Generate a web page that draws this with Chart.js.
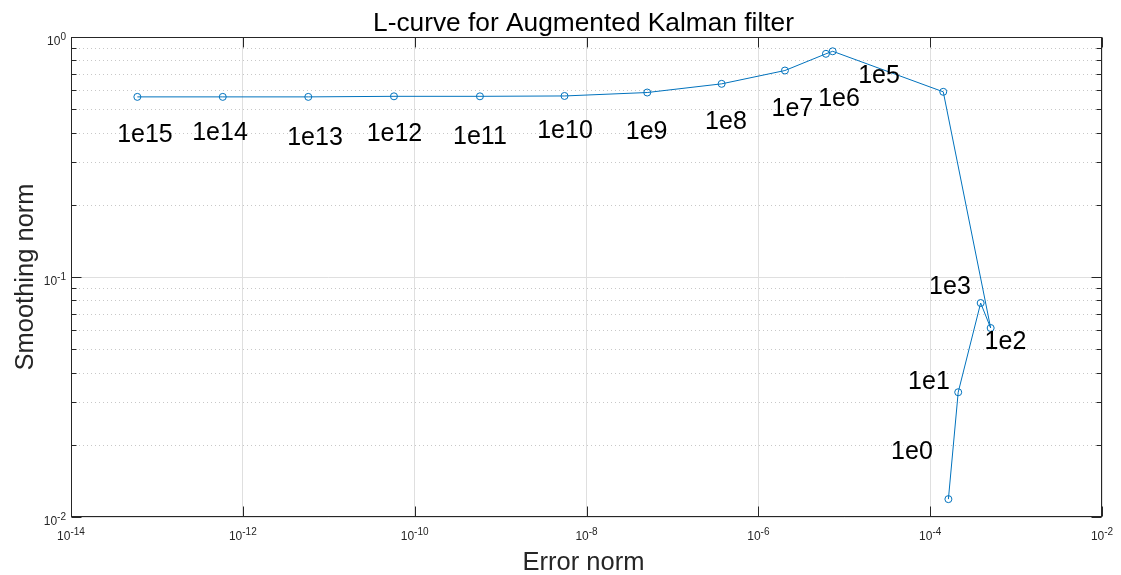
<!DOCTYPE html>
<html>
<head>
<meta charset="utf-8">
<title>L-curve</title>
<script src="https://cdn.jsdelivr.net/npm/chart.js@4"></script>
<style>
  html, body { margin: 0; padding: 0; background: #fff; }
  canvas { display: block; }
</style>
</head>
<body>
<canvas id="lcurve" width="1121" height="575"></canvas>
<script>
// L-curve points, in the order the line runs through them
const errorNorm = [5.92e-14, 5.84e-13, 5.78e-12, 5.74e-11, 5.75e-10, 5.55e-9, 5.09e-8, 3.74e-7,
                   2.04e-6, 6.12e-6, 7.33e-6, 1.42e-4, 5.06e-4, 3.87e-4, 2.12e-4, 1.63e-4];
const smoothNorm = [0.563, 0.563, 0.563, 0.566, 0.566, 0.568, 0.587, 0.638,
                    0.725, 0.851, 0.872, 0.591, 0.0613, 0.0779, 0.0331, 0.01187];

// regularisation parameter text labels (placed in data coordinates)
const labelText = ['1e15', '1e14', '1e13', '1e12', '1e11', '1e10', '1e9', '1e8',
                   '1e7', '1e6', '1e5', '1e3', '1e2', '1e1', '1e0'];
const labelErr = [7.26e-14, 5.42e-13, 6.92e-12, 5.82e-11, 5.75e-10, 5.62e-9, 5.01e-8, 4.20e-7,
                  2.49e-6, 8.69e-6, 2.54e-5, 1.70e-4, 7.52e-4, 9.68e-5, 6.14e-5];
const labelSmooth = [0.400, 0.404, 0.388, 0.402, 0.392, 0.415, 0.408, 0.451,
                     0.513, 0.562, 0.704, 0.0924, 0.0545, 0.0371, 0.01895];

// axis decades
const xTickExp = [-14, -12, -10, -8, -6, -4, -2];
const yTickExp = [-2, -1, 0];

const FONT = '"Liberation Sans", Arial, Helvetica, sans-serif';
const AXIS_COLOR = '#262626';
const LINE_COLOR = '#0072BD';

const points = errorNorm.map((x, i) => ({ x, y: smoothNorm[i] }));

function yTickValues() {
  const vals = [];
  for (let e = yTickExp[0]; e < yTickExp[yTickExp.length - 1]; e++) {
    for (let m = 1; m <= 9; m++) vals.push(m * Math.pow(10, e));
  }
  vals.push(Math.pow(10, yTickExp[yTickExp.length - 1]));
  return vals;
}

function isDecade(v) {
  const l = Math.log10(v);
  return Math.abs(l - Math.round(l)) < 1e-6;
}

// "10" with a raised exponent
function powWidth(ctx, exp) {
  ctx.font = `12px ${FONT}`;
  const a = ctx.measureText('10').width;
  ctx.font = `10px ${FONT}`;
  const b = ctx.measureText(String(exp)).width;
  return [a, b];
}

function drawPow(ctx, exp, left, baseline) {
  const [a] = powWidth(ctx, exp);
  ctx.textAlign = 'left';
  ctx.textBaseline = 'alphabetic';
  ctx.font = `12px ${FONT}`;
  ctx.fillText('10', left, baseline);
  ctx.font = `10px ${FONT}`;
  ctx.fillText(String(exp), left + a, baseline - 5);
}

const decorations = {
  id: 'decorations',
  beforeDatasetsDraw(chart) {
    const { ctx, chartArea: area, scales } = chart;
    // dotted minor grid on y
    ctx.save();
    ctx.strokeStyle = '#c8c8c8';
    ctx.lineWidth = 1;
    ctx.setLineDash([1, 3]);
    yTickValues().filter(v => !isDecade(v)).forEach(v => {
      const y = Math.round(scales.y.getPixelForValue(v)) + 0.5;
      ctx.beginPath();
      ctx.moveTo(area.left, y);
      ctx.lineTo(area.right, y);
      ctx.stroke();
    });
    ctx.restore();
  },
  afterDatasetsDraw(chart) {
    const { ctx, chartArea: area, scales } = chart;
    ctx.save();
    ctx.strokeStyle = AXIS_COLOR;
    ctx.lineWidth = 1;
    const L = Math.round(area.left) + 0.5, R = Math.round(area.right) - 0.5;
    const T = Math.round(area.top) + 0.5, B = Math.round(area.bottom) - 0.5;
    ctx.strokeRect(L, T, R - L, B - T);

    // inward ticks on all four sides
    ctx.beginPath();
    xTickExp.forEach(e => {
      const x = Math.round(scales.x.getPixelForValue(Math.pow(10, e))) + 0.5;
      ctx.moveTo(x, B); ctx.lineTo(x, B - 10);
      ctx.moveTo(x, T); ctx.lineTo(x, T + 10);
    });
    yTickValues().forEach(v => {
      const y = Math.round(scales.y.getPixelForValue(v)) + 0.5;
      const len = isDecade(v) ? 10 : 5;
      ctx.moveTo(L, y); ctx.lineTo(L + len, y);
      ctx.moveTo(R, y); ctx.lineTo(R - len, y);
    });
    ctx.stroke();

    // parameter labels
    ctx.fillStyle = '#000';
    ctx.font = `25px ${FONT}`;
    ctx.textAlign = 'center';
    ctx.textBaseline = 'alphabetic';
    labelText.forEach((t, i) => {
      const x = scales.x.getPixelForValue(labelErr[i]);
      const y = scales.y.getPixelForValue(labelSmooth[i]);
      ctx.fillText(t, x, y + 9);
    });
    ctx.restore();
  },
  afterDraw(chart) {
    const { ctx, chartArea: area, scales } = chart;
    ctx.save();
    ctx.fillStyle = AXIS_COLOR;

    xTickExp.forEach(e => {
      const x = scales.x.getPixelForValue(Math.pow(10, e));
      const [a, b] = powWidth(ctx, e);
      drawPow(ctx, e, x - (a + b) / 2, area.bottom + 23);
    });
    yTickExp.forEach(e => {
      const y = scales.y.getPixelForValue(Math.pow(10, e));
      const [a, b] = powWidth(ctx, e);
      drawPow(ctx, e, area.left - 5 - (a + b), y + 8);
    });

    const cx = (area.left + area.right) / 2 - 3;
    ctx.textAlign = 'center';
    ctx.textBaseline = 'alphabetic';
    ctx.fillStyle = '#000';
    ctx.font = `26.3px ${FONT}`;
    ctx.fillText('L-curve for Augmented Kalman filter', cx, 31);

    ctx.fillStyle = AXIS_COLOR;
    ctx.font = `25.5px ${FONT}`;
    ctx.fillText('Error norm', cx, 570);

    ctx.translate(33, (area.top + area.bottom) / 2);
    ctx.rotate(-Math.PI / 2);
    ctx.fillText('Smoothing norm', 0, 0);
    ctx.restore();
  }
};

new Chart(document.getElementById('lcurve'), {
  type: 'scatter',
  data: {
    datasets: [{
      label: 'L-curve',
      data: points,
      showLine: true,
      borderColor: LINE_COLOR,
      borderWidth: 1,
      pointRadius: 3.5,
      pointBorderWidth: 1,
      pointBorderColor: LINE_COLOR,
      pointBackgroundColor: 'rgba(0,0,0,0)',
      tension: 0
    }]
  },
  options: {
    responsive: false,
    animation: false,
    devicePixelRatio: 1,
    layout: { padding: { left: 71, top: 37, right: 19, bottom: 58 } },
    plugins: {
      legend: { display: false },
      tooltip: { enabled: false },
      title: { display: false }
    },
    scales: {
      x: {
        type: 'logarithmic',
        min: 1e-14,
        max: 1e-2,
        afterBuildTicks: s => { s.ticks = xTickExp.map(e => ({ value: Math.pow(10, e) })); },
        ticks: { display: false },
        grid: { color: '#dfdfdf', drawTicks: false, lineWidth: 1 },
        border: { display: false }
      },
      y: {
        type: 'logarithmic',
        min: 1e-2,
        max: 1,
        afterBuildTicks: s => { s.ticks = yTickValues().map(v => ({ value: v })); },
        ticks: { display: false },
        grid: {
          color: ctx => (ctx.tick && isDecade(ctx.tick.value)) ? '#dfdfdf' : 'rgba(0,0,0,0)',
          drawTicks: false,
          lineWidth: 1
        },
        border: { display: false }
      }
    }
  },
  plugins: [decorations]
});
</script>
</body>
</html>
